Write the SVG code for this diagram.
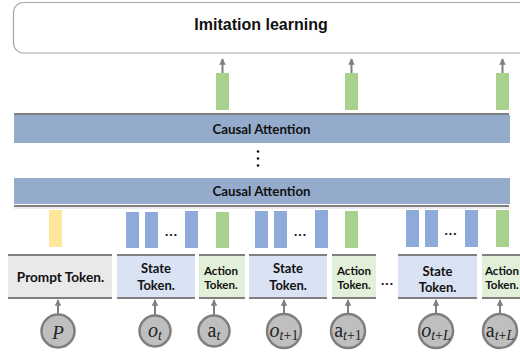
<svg xmlns="http://www.w3.org/2000/svg" width="520" height="352" viewBox="0 0 520 352">
<defs>
<marker id="ah" viewBox="0 0 10 10" refX="9" refY="5" markerWidth="3.2" markerHeight="3.2" orient="auto" markerUnits="strokeWidth">
<path d="M0,0 L10,5 L0,10 z" fill="#7f7f7f"/>
</marker>
<style>
.lbl{font-family:Lato,"Liberation Sans",sans-serif;font-weight:bold;fill:#111;text-anchor:middle}
.math{font-family:"Liberation Serif","DejaVu Serif",serif;fill:#222;text-anchor:middle}
.band{fill:#95abcb}
.gl{stroke:#7f7f7f;stroke-width:2}
.sb{fill:#8eaadb}
.gb{fill:#a9d18e}
.yb{fill:#ffe699}
.st{fill:#dae3f3}
.ac{fill:#e2f0d9}
.pr{fill:#e9e9e9}
.cir{fill:#bfbfbf;stroke:#7f7f7f;stroke-width:2.5}
.arr{stroke:#7f7f7f;stroke-width:2;fill:none;marker-end:url(#ah)}
.dots{font-family:Lato,"Liberation Sans",sans-serif;font-weight:bold;font-size:14px;fill:#111;text-anchor:middle;letter-spacing:1px}
</style>
</defs>
<rect width="520" height="352" fill="#ffffff"/>

<g id="imitation">
<rect x="13.5" y="2.5" width="520" height="50.5" rx="10" fill="#ffffff" stroke="#a6a6a6" stroke-width="1.2"/>
<text x="261" y="30" font-family="'Liberation Sans',Arial,sans-serif" font-weight="bold" font-size="16" text-anchor="middle" fill="#111">Imitation learning</text>
</g>

<g id="outputs">
<rect class="gb" x="216" y="73" width="13" height="37"/>
<rect class="gb" x="345" y="73" width="13" height="37"/>
<rect class="gb" x="496" y="73" width="13" height="37"/>
</g>

<g id="attn-top">
<line class="gl" x1="14" y1="114" x2="509" y2="114"/>
<rect class="band" x="14" y="115" width="496" height="28"/>
<text class="lbl" x="261.5" y="134" font-size="13.3">Causal Attention</text>
</g>

<g id="vdots">
<circle cx="258" cy="151.5" r="1.3" fill="#111"/>
<circle cx="258" cy="158.5" r="1.3" fill="#111"/>
<circle cx="258" cy="165.5" r="1.3" fill="#111"/>
</g>

<g id="attn-bottom">
<rect class="band" x="14" y="178" width="496" height="26"/>
<line class="gl" x1="14" y1="206" x2="509" y2="206"/>
<line x1="14" y1="208" x2="509" y2="208" stroke="#d9d9d9" stroke-width="1"/>
<text class="lbl" x="261.5" y="195.5" font-size="13.3">Causal Attention</text>
</g>

<g id="embeds">
<rect class="yb" x="49" y="210" width="13" height="37"/>
<rect class="sb" x="126" y="212" width="13" height="36"/>
<rect class="sb" x="145" y="212" width="13" height="36"/>
<text class="dots" x="171.5" y="236">...</text>
<rect class="sb" x="185" y="211" width="13" height="37"/>
<rect class="gb" x="216" y="212" width="13" height="36"/>
<rect class="sb" x="255" y="211" width="13" height="37"/>
<rect class="sb" x="274" y="211" width="13" height="37"/>
<text class="dots" x="300.5" y="236">...</text>
<rect class="sb" x="315" y="210" width="13" height="38"/>
<rect class="gb" x="345" y="211" width="13" height="37"/>
<rect class="sb" x="406" y="210" width="13" height="37"/>
<rect class="sb" x="425" y="210" width="13" height="37"/>
<text class="dots" x="451" y="235">...</text>
<rect class="sb" x="465" y="210" width="13" height="37"/>
<rect class="gb" x="496" y="210" width="13" height="37"/>
</g>

<g id="prompt-token">
<rect class="pr" x="8" y="255" width="104" height="43"/>
<line class="gl" x1="8" y1="255" x2="112" y2="255"/>
<line class="gl" x1="8" y1="298" x2="112" y2="298"/>
<text class="lbl" x="60.5" y="282" font-size="13.6">Prompt Token.</text>
</g>

<g id="state-token-1">
<rect class="st" x="117" y="255" width="78" height="43"/>
<line class="gl" x1="117" y1="255" x2="195" y2="255"/>
<line class="gl" x1="117" y1="298" x2="195" y2="298"/>
<text class="lbl" x="156" y="273" font-size="13">State</text>
<text class="lbl" x="156" y="290" font-size="13">Token.</text>
</g>

<g id="action-token-1">
<rect class="ac" x="199" y="255" width="46" height="43"/>
<line class="gl" x1="199" y1="255" x2="245" y2="255"/>
<line class="gl" x1="199" y1="298" x2="245" y2="298"/>
<text class="lbl" x="221" y="274.5" font-size="11.6">Action</text>
<text class="lbl" x="221" y="288.5" font-size="11.6">Token.</text>
</g>

<g id="state-token-2">
<rect class="st" x="249" y="255" width="78" height="43"/>
<line class="gl" x1="249" y1="255" x2="327" y2="255"/>
<line class="gl" x1="249" y1="298" x2="327" y2="298"/>
<text class="lbl" x="288" y="273" font-size="13">State</text>
<text class="lbl" x="288" y="290" font-size="13">Token.</text>
</g>

<g id="action-token-2">
<rect class="ac" x="332" y="255" width="44" height="43"/>
<line class="gl" x1="332" y1="255" x2="376" y2="255"/>
<line class="gl" x1="332" y1="298" x2="376" y2="298"/>
<text class="lbl" x="354" y="274.5" font-size="11.6">Action</text>
<text class="lbl" x="354" y="288.5" font-size="11.6">Token.</text>
</g>

<text class="dots" x="387.5" y="285">...</text>

<g id="state-token-3">
<rect class="st" x="398" y="255" width="79" height="43"/>
<line class="gl" x1="398" y1="255" x2="477" y2="255"/>
<line class="gl" x1="398" y1="298" x2="477" y2="298"/>
<text class="lbl" x="437.5" y="276" font-size="13">State</text>
<text class="lbl" x="437.5" y="292" font-size="13">Token.</text>
</g>

<g id="action-token-3">
<rect class="ac" x="482" y="255" width="40" height="43"/>
<line class="gl" x1="482" y1="255" x2="522" y2="255"/>
<line class="gl" x1="482" y1="298" x2="522" y2="298"/>
<text class="lbl" x="502" y="274.5" font-size="11.6">Action</text>
<text class="lbl" x="502" y="288.5" font-size="11.6">Token.</text>
</g>

<g id="in-p">
<circle class="cir" cx="58" cy="331" r="16.5"/>
<text class="math" x="58" y="339" font-size="19" font-style="italic">P</text>
</g>
<g id="in-ot">
<circle class="cir" cx="155" cy="331" r="15.5"/>
<text class="math" x="155" y="337" font-size="20"><tspan font-style="italic">o</tspan><tspan font-size="14" font-style="italic" dy="3">t</tspan></text>
</g>
<g id="in-at">
<circle class="cir" cx="214" cy="331" r="15.5"/>
<text class="math" x="214" y="337" font-size="20"><tspan>a</tspan><tspan font-size="14" font-style="italic" dy="3">t</tspan></text>
</g>
<g id="in-ot1">
<circle class="cir" cx="284" cy="331" r="17"/>
<text class="math" x="284" y="337" font-size="20"><tspan font-style="italic">o</tspan><tspan font-size="14" dy="3"><tspan font-style="italic">t</tspan>+1</tspan></text>
</g>
<g id="in-at1">
<circle class="cir" cx="348" cy="331" r="17"/>
<text class="math" x="348" y="337" font-size="20"><tspan>a</tspan><tspan font-size="14" dy="3"><tspan font-style="italic">t</tspan>+1</tspan></text>
</g>
<g id="in-otL">
<circle class="cir" cx="436" cy="331" r="17"/>
<text class="math" x="436" y="337" font-size="20"><tspan font-style="italic">o</tspan><tspan font-size="14" dy="3"><tspan font-style="italic">t</tspan>+<tspan font-style="italic">L</tspan></tspan></text>
</g>
<g id="in-atL">
<circle class="cir" cx="500" cy="331" r="17"/>
<text class="math" x="500" y="337" font-size="20"><tspan>a</tspan><tspan font-size="14" dy="3"><tspan font-style="italic">t</tspan>+<tspan font-style="italic">L</tspan></tspan></text>
</g>

<g id="connectors">
<line class="arr" x1="222.5" y1="73" x2="222.5" y2="59"/>
<line class="arr" x1="351.5" y1="73" x2="351.5" y2="59"/>
<line class="arr" x1="502.5" y1="73" x2="502.5" y2="59"/>
<line class="arr" x1="58" y1="314" x2="58" y2="300"/>
<line class="arr" x1="155" y1="315" x2="155" y2="300"/>
<line class="arr" x1="214" y1="315" x2="214" y2="300"/>
<line class="arr" x1="284" y1="314" x2="284" y2="300"/>
<line class="arr" x1="348" y1="314" x2="348" y2="300"/>
<line class="arr" x1="436" y1="314" x2="436" y2="300"/>
<line class="arr" x1="500" y1="314" x2="500" y2="300"/>
</g>
</svg>
